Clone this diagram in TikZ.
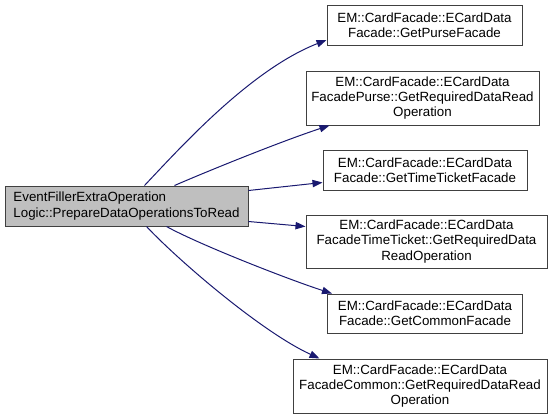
\documentclass[tikz,border=0pt]{standalone}
\usepackage{fontspec}
\setmainfont{Liberation Sans}
\usetikzlibrary{arrows.meta,calc}
\definecolor{edgeblue}{HTML}{191970}
\definecolor{boxborder}{HTML}{404040}
\definecolor{boxgray}{HTML}{BFBFBF}
\begin{document}
\begin{tikzpicture}[x=0.75pt,y=-0.75pt,
  fn/.style={draw=boxborder,line width=0.75pt,fill=white,inner sep=0pt,
    font=\fontsize{10pt}{11.5pt}\selectfont,align=center},
  fnmain/.style={fn,fill=boxgray,align=left},
  call/.style={draw=edgeblue,line width=0.75pt,
    -{Triangle[length=7.5pt,width=5.5pt,fill=edgeblue]}}]
\useasboundingbox (0,0) rectangle (560,419);
\node[fnmain,minimum width=182.25pt,minimum height=30pt] (L) at (126.5,206)
  {EventFillerExtraOperation\\Logic::PrepareDataOperationsToRead};
\node[fn,minimum width=146.25pt,minimum height=30pt] (R1) at (424.5,25.5)
  {EM::CardFacade::ECardData\\Facade::GetPurseFacade};
\node[fn,minimum width=174.75pt,minimum height=40.5pt] (R2) at (422.5,98)
  {EM::CardFacade::ECardData\\FacadePurse::GetRequiredDataRead\\Operation};
\node[fn,minimum width=153pt,minimum height=30pt] (R3) at (425,170)
  {EM::CardFacade::ECardData\\Facade::GetTimeTicketFacade};
\node[fn,minimum width=180.75pt,minimum height=39.75pt] (R4) at (426.5,241.5)
  {EM::CardFacade::ECardData\\FacadeTimeTicket::GetRequiredData\\ReadOperation};
\node[fn,minimum width=146.25pt,minimum height=29.25pt] (R5) at (425,313.5)
  {EM::CardFacade::ECardData\\Facade::GetCommonFacade};
\node[fn,minimum width=190.5pt,minimum height=40.5pt] (R6) at (420,386)
  {EM::CardFacade::ECardData\\FacadeCommon::GetRequiredDataRead\\Operation};
\draw[call] ($(L.north west)+(140,0)$) .. controls (180,148) and (250,70) .. ($(R1.south west)+(0,-6)$);
\draw[call] ($(L.north west)+(170,0)$) .. controls (215,168) and (285,140) .. ($(R2.south west)+(24,0)$);
\draw[call] ($(L.north east)+(0,5)$) -- ($(R3.north west)+(0,33)$);
\draw[call] ($(L.south east)+(0,-5)$) -- ($(R4.north west)+(0,12)$);
\draw[call] ($(L.south west)+(162,0)$) .. controls (200,245) and (290,280) .. ($(R5.north west)+(5,0)$);
\draw[call] ($(L.south west)+(142,0)$) .. controls (180,262) and (262,332) .. ($(R6.north west)+(27,0)$);
\end{tikzpicture}
\end{document}
